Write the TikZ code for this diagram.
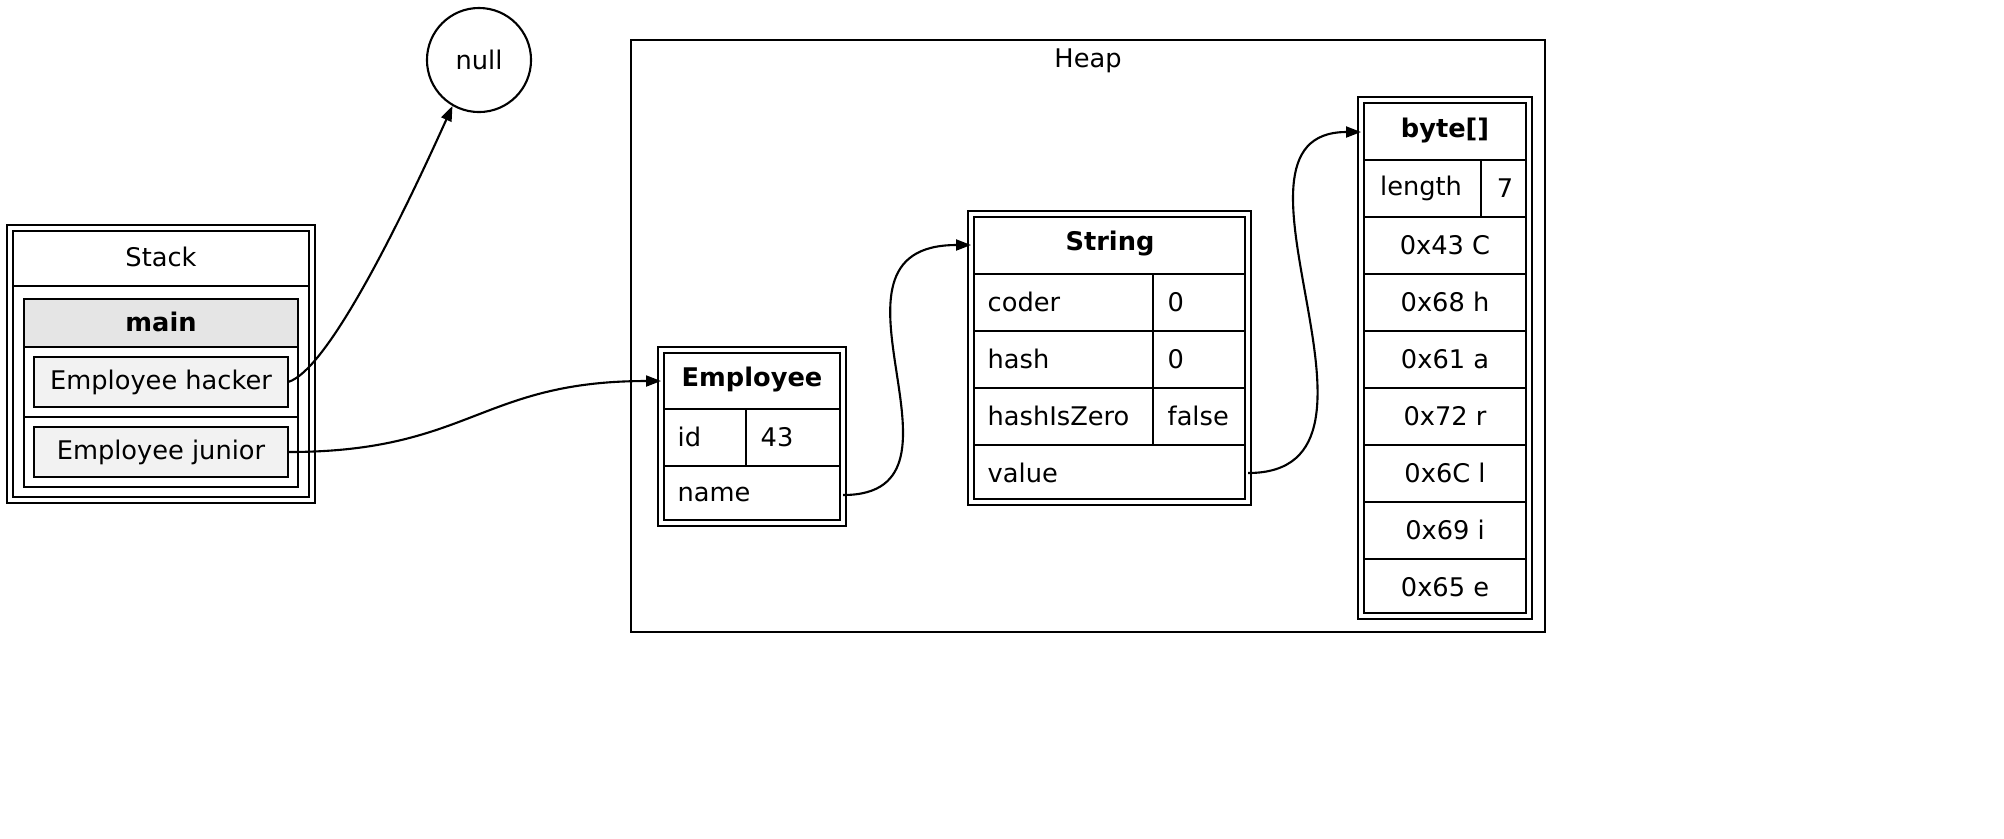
\documentclass[tikz,border=0pt]{standalone}
\usepackage{fontspec}
\setmainfont{DejaVu Sans}
\usetikzlibrary{arrows.meta}
\tikzstyle{cell}=[draw,line width=0.7pt,inner sep=0pt,minimum height=0.57cm]
\tikzstyle{lab}=[inner sep=0pt,font=\fontsize{7.3}{9}\selectfont]
\tikzstyle{ptr}=[line width=0.6pt,-{Triangle[length=1.5mm,width=1.1mm]}]
\tikzstyle{frame}=[draw,line width=0.6pt,double,double distance=0.9pt]
\tikzstyle{rule}=[line width=0.7pt]
\begin{document}
\begin{tikzpicture}[x=0.01cm,y=-0.01cm]
\useasboundingbox (0,0) rectangle (2004,838);
% stack
\draw[frame,line width=0.8pt] (10,228) rectangle (312,500);
\draw[rule] (12,286) -- (310,286);
\node[lab] (stack) at (161,257) {Stack};
\draw[rule] (24,299) rectangle (298,487);
\draw[rule,fill=black!10] (24,299) rectangle (298,347);
\draw[rule] (24,417) -- (298,417);
\node[lab,font=\fontsize{7.3}{9}\selectfont\bfseries] (main) at (161,322) {main};
\node[cell,fill=black!5,minimum width=2.54cm,minimum height=0.5cm,lab] (hacker) at (161,382) {Employee hacker};
\node[cell,fill=black!5,minimum width=2.54cm,minimum height=0.5cm,lab] (junior) at (161,452) {Employee junior};
% null
\node[draw,circle,line width=0.6pt,minimum size=1.04cm,lab] (null) at (479,60) {null};
% heap
\draw[line width=0.6pt] (631,40) rectangle (1545,632);
\node[lab] (heap) at (1088,61) {Heap};
% Employee
\draw[frame] (661,350) rectangle (843,523);
\draw[rule] (663,409) -- (841,409) (663,466) -- (841,466) (746,409) -- (746,466);
\node[lab,font=\fontsize{7.3}{9}\selectfont\bfseries] (emp) at (752,379) {Employee};
\node[lab,anchor=west] (eid) at (677,437) {id};
\node[lab,anchor=west] (e43) at (760,437) {43};
\node[lab,anchor=west] (ename) at (677,494) {name};
\coordinate (empin) at (661,381);
\coordinate (nameout) at (843,495);
% String
\draw[frame] (971,214) rectangle (1248,502);
\foreach \y in {274,331,388,445} \draw[rule] (973,\y) -- (1246,\y);
\draw[rule] (1153,274) -- (1153,445);
\node[lab,font=\fontsize{7.3}{9}\selectfont\bfseries] (str) at (1110,243) {String};
\foreach \k/\v [count=\i] in {coder/0,hash/0,hashIsZero/false}
{
  \node[lab,anchor=west] (sk\i) at (987,245+57*\i) {\k};
  \node[lab,anchor=west] (sv\i) at (1167,245+57*\i) {\v};
}
\node[lab,anchor=west] (svalue) at (987,473) {value};
\coordinate (strin) at (971,245);
\coordinate (valueout) at (1248,473);
% byte[]
\draw[frame] (1361,100) rectangle (1529,616);
\foreach \y in {160,217,274,331,388,445,502,559} \draw[rule] (1363,\y) -- (1527,\y);
\draw[rule] (1481,160) -- (1481,217);
\node[lab,font=\fontsize{7.3}{9}\selectfont\bfseries] (bytes) at (1445,130) {byte[]};
\node[lab] (blen) at (1421,188) {length};
\node[lab] (b7) at (1505,188) {7};
\foreach \t [count=\i] in {0x43 C,0x68 h,0x61 a,0x72 r,0x6C l,0x69 i,0x65 e}
  \node[lab] (b\i) at (1445,188+57*\i) {\t};
\coordinate (bytein) at (1361,132);
% pointers
\coordinate (hackerout) at (288,382);
\coordinate (juniorout) at (288,452);
\draw[ptr] (hackerout) .. controls (330,370) and (410,200) .. (null.240);
\draw[ptr] (juniorout) .. controls (470,452) and (480,381) .. (empin);
\draw[ptr] (nameout) .. controls (990,495) and (800,245) .. (strin);
\draw[ptr] (valueout) .. controls (1420,473) and (1200,132) .. (bytein);
\end{tikzpicture}
\end{document}
